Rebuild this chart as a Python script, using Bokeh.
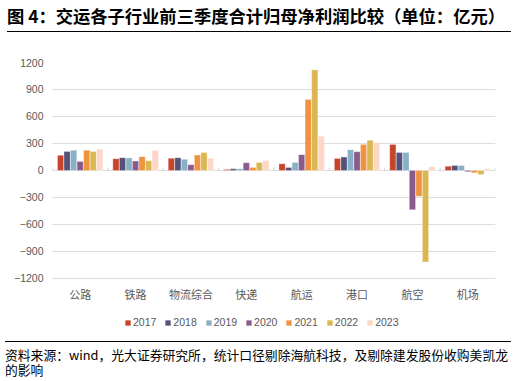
from bokeh.plotting import figure
from bokeh.models import (ColumnDataSource, FactorRange, Range1d, FixedTicker,
                          Legend, LegendItem, Div)
from bokeh.core.properties import value
from bokeh.transform import dodge
from bokeh.layouts import column
from bokeh.embed import file_html
from bokeh.resources import INLINE

title_text = "图 4：交运各子行业前三季度合计归母净利润比较（单位：亿元）"
footer_line1 = "资料来源：wind，光大证券研究所，统计口径剔除海航科技，及剔除建发股份收购美凯龙"
footer_line2 = "的影响"

categories = ["公路", "铁路", "物流综合", "快递", "航运", "港口", "航空", "机场"]
years = ["2017", "2018", "2019", "2020", "2021", "2022", "2023"]
v2017 = [169, 131, 135, 11, 75, 134, 290, 48]
v2018 = [210, 142, 142, 19, 34, 149, 201, 56]
v2019 = [225, 139, 124, 19, 90, 231, 201, 56]
v2020 = [101, 105, 64, 86, 176, 208, -435, -15]
v2021 = [225, 154, 172, 34, 789, 290, -286, -26]
v2022 = [210, 109, 199, 89, 1120, 335, -1016, -45]
v2023 = [236, 221, 135, 111, 380, 312, 41, 19]
series = [v2017, v2018, v2019, v2020, v2021, v2022, v2023]
colors = ["#C9432A", "#54527A", "#88B0C6", "#8A5A8C", "#F0923E", "#DBB752", "#FDD6C6"]
y_ticks = [-1200, -900, -600, -300, 0, 300, 600, 900, 1200]

data = {"cat": categories}
for y, s in zip(years, series):
    data["y" + y] = s
src = ColumnDataSource(data)

# frame extends below the -1200 line to hold category labels and legend
y_bottom = -1867
label_y = -1378

p = figure(x_range=FactorRange(*categories), y_range=Range1d(y_bottom, 1200),
           width=516, height=308, output_backend="svg", toolbar_location=None,
           min_border_left=52, min_border_right=21, min_border_top=30,
           min_border_bottom=2)
p.outline_line_color = None
p.background_fill_color = "white"
p.border_fill_color = "white"

p.xgrid.grid_line_color = None
p.ygrid.grid_line_color = "#dcdcdc"
p.ygrid.grid_line_width = 1.2

p.yaxis.ticker = FixedTicker(ticks=y_ticks)
p.yaxis.axis_line_color = None
p.yaxis.major_tick_line_color = None
p.yaxis.minor_tick_line_color = None
p.yaxis.major_tick_out = 0
p.yaxis.major_tick_in = 0
p.yaxis.major_label_standoff = 9
p.yaxis.major_label_text_font = "Liberation Sans"
p.yaxis.major_label_text_font_size = "10.5px"
p.yaxis.major_label_text_color = "#595959"

p.xaxis.visible = False

# category labels
p.text(x="cat", y=label_y, text="cat", source=src,
       text_font=value("Noto Sans CJK SC"), text_font_size="11px",
       text_color="#595959", text_align="center", text_baseline="middle")

# boundary tick marks on the zero line
p.segment(x0=dodge("cat", -0.5, range=p.x_range), y0=0,
          x1=dodge("cat", -0.5, range=p.x_range), y1=34,
          source=src, line_color="#d0d0d0", line_width=1)
last_src = ColumnDataSource({"cat": [categories[-1]]})
p.segment(x0=dodge("cat", 0.5, range=p.x_range), y0=0,
          x1=dodge("cat", 0.5, range=p.x_range), y1=34,
          source=last_src, line_color="#d0d0d0", line_width=1)

items = []
for i, (y, c) in enumerate(zip(years, colors)):
    r = p.vbar(x=dodge("cat", (i - 3) * 0.118, range=p.x_range), top="y" + y,
               bottom=0, width=0.112, source=src, fill_color=c,
               line_color="white", line_alpha=0.5, line_width=0.6)
    items.append(LegendItem(label=y, renderers=[r]))

legend = Legend(items=items, orientation="horizontal", location=(72, 10),
                glyph_width=7, glyph_height=7, label_standoff=2, spacing=8,
                padding=0, margin=0, border_line_color=None,
                background_fill_alpha=0, label_text_font="Liberation Sans",
                label_text_font_size="10.5px", label_text_color="#595959",
                label_height=12)
p.add_layout(legend, "center")

title_div = Div(
    text=(f"<div style=\"font-family:'Noto Sans CJK SC';font-weight:bold;"
          f"font-size:17.3px;line-height:18px;height:32px;white-space:nowrap;"
          f"width:504px;margin-left:7px;border-bottom:1.2px solid #000;"
          f"color:#000;box-sizing:border-box;padding-top:7px\">{title_text}</div>"),
    width=516, height=32, margin=0)

footer_div = Div(
    text=(f"<div style=\"margin-top:1px;margin-left:5px;width:506px;"
          f"border-top:1.2px solid #000;padding-top:5px;"
          f"font-family:'Noto Sans CJK SC';font-size:12.8px;line-height:15px;"
          f"white-space:nowrap;color:#000\">{footer_line1}<br>{footer_line2}</div>"),
    width=516, height=41, margin=0, styles={"overflow": "visible"})

layout = column(title_div, p, footer_div, spacing=0)

open("out.html", "w").write(file_html(layout, INLINE))
